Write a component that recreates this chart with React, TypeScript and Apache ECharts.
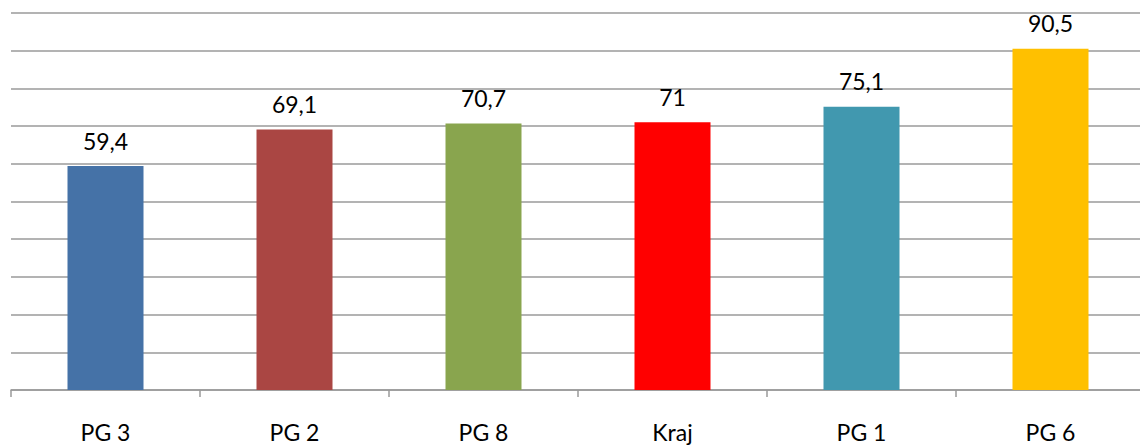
import React, { useEffect, useRef } from "react";
import * as echarts from "echarts";

const categories = ["PG 3", "PG 2", "PG 8", "Kraj", "PG 1", "PG 6"];
const values = [59.4, 69.1, 70.7, 71, 75.1, 90.5];
const colors = ["#4572A7", "#AA4643", "#89A54E", "#FF0000", "#4198AF", "#FFC000"];

export default function App() {
  const ref = useRef<HTMLDivElement>(null);
  useEffect(() => {
    const chart = echarts.init(ref.current!, undefined, { renderer: "svg" });
    chart.setOption({
      animation: false,
      grid: { left: 11, top: 13, width: 1134, height: 377, containLabel: false },
      xAxis: {
        type: "category",
        data: categories,
        axisLine: { lineStyle: { color: "#9a9a9a", width: 1.5 } },
        axisTick: { show: true, length: 7, lineStyle: { color: "#9a9a9a", width: 1.5 } },
        axisLabel: { color: "#000", fontSize: 23, fontFamily: "Lato, 'Open Sans', sans-serif", margin: 30 },
      },
      yAxis: {
        type: "value",
        min: 0,
        max: 100,
        interval: 10,
        axisLabel: { show: false },
        axisLine: { show: false },
        axisTick: { show: false },
        splitLine: { lineStyle: { color: "#9a9a9a", width: 1.5 } },
      },
      series: [
        {
          type: "bar",
          barWidth: 76,
          data: values.map((v, i) => ({ value: v, itemStyle: { color: colors[i] } })),
          label: {
            show: true,
            position: "top",
            distance: 14,
            color: "#000",
            fontSize: 23,
            fontFamily: "Lato, 'Open Sans', sans-serif",
            formatter: (p: any) => String(p.value).replace(".", ","),
          },
        },
      ],
    });
    return () => chart.dispose();
  }, []);
  return (
    <div style={{ position: "absolute", left: 0, top: 0, width: 1140, height: 446, overflow: "hidden", background: "#fff" }}>
      <div ref={ref} style={{ width: 1146, height: 446 }} />
    </div>
  );
}
